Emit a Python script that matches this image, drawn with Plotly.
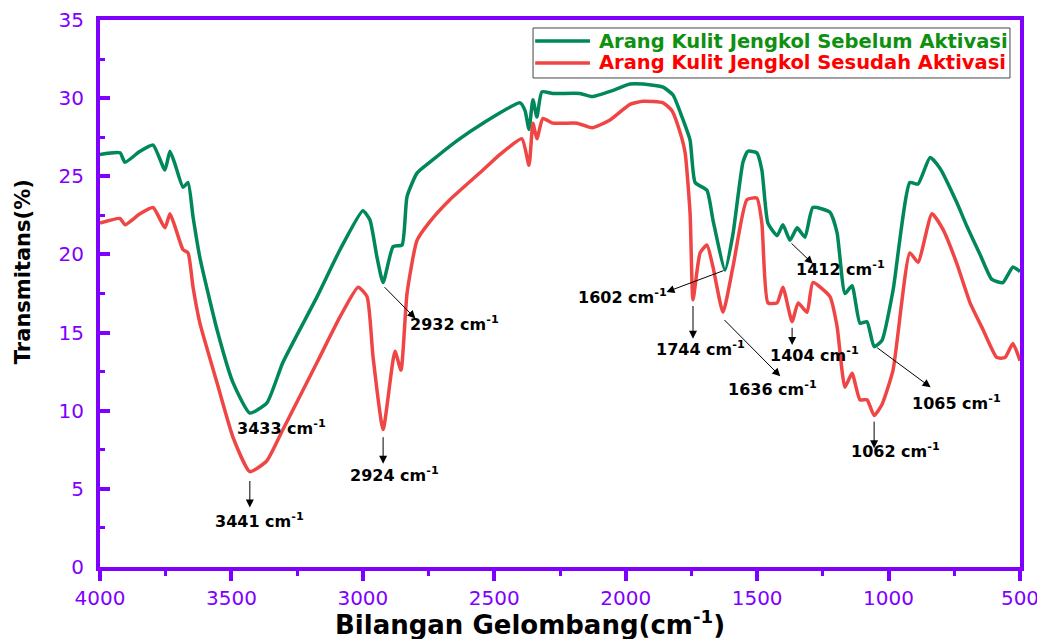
import plotly.graph_objects as go

# ---------------- data ----------------
wn_sebelum = [4000, 3924, 3905, 3848, 3798, 3753, 3734, 3715, 3684, 3665, 3646, 3620, 3555, 3494,
              3430, 3365, 3304, 3174, 3087, 3000, 2973, 2946, 2923, 2885, 2851, 2832, 2794, 2745,
              2640, 2543, 2402, 2383, 2368, 2353, 2338, 2319, 2277, 2174, 2128, 2048, 1984, 1934,
              1858, 1820, 1786, 1755, 1736, 1691, 1668, 1622, 1592, 1554, 1535, 1501, 1482, 1459,
              1424, 1402, 1375, 1348, 1318, 1288, 1223, 1196, 1166, 1139, 1109, 1082, 1055, 1025,
              983, 919, 888, 842, 804, 740, 702, 652, 607, 565, 527, 500]
t_sebelum = [26.4, 26.5, 25.9, 26.6, 27.0, 25.4, 26.6, 25.8, 24.3, 24.6, 22.4, 19.8, 15.2, 11.8,
             9.85, 10.5, 13.1, 17.3, 20.3, 22.8, 22.2, 19.8, 18.2, 20.5, 20.6, 23.7, 25.2, 25.9,
             27.3, 28.4, 29.7, 29.2, 28.0, 29.9, 28.8, 30.4, 30.3, 30.3, 30.1, 30.5, 30.9, 30.9,
             30.7, 30.2, 28.8, 27.3, 24.6, 24.1, 22.2, 19.0, 21.3, 25.9, 26.6, 26.5, 25.4, 22.0,
             21.2, 21.9, 20.9, 21.7, 21.1, 23.0, 22.7, 21.4, 17.5, 18.0, 15.6, 15.7, 14.1, 14.5,
             17.7, 24.6, 24.5, 26.2, 25.5, 23.3, 21.8, 20.0, 18.4, 18.2, 19.2, 18.9]

wn_sesudah = [4000, 3924, 3905, 3848, 3798, 3753, 3734, 3715, 3684, 3665, 3646, 3620, 3555, 3494,
              3430, 3365, 3304, 3174, 3087, 3018, 2984, 2961, 2923, 2878, 2855, 2832, 2794, 2745,
              2669, 2543, 2478, 2395, 2368, 2353, 2338, 2315, 2277, 2185, 2128, 2060, 1984, 1934,
              1858, 1824, 1793, 1774, 1755, 1744, 1717, 1691, 1668, 1630, 1592, 1539, 1501, 1482,
              1459, 1424, 1402, 1367, 1344, 1310, 1288, 1223, 1196, 1166, 1139, 1109, 1082, 1055,
              1025, 983, 919, 888, 835, 793, 740, 690, 641, 588, 557, 527, 500]
t_sesudah = [22.0, 22.3, 21.9, 22.6, 23.0, 21.7, 22.6, 21.8, 20.3, 20.1, 17.9, 15.6, 11.8, 8.3,
             6.1, 6.8, 8.8, 13.1, 16.0, 17.9, 17.3, 13.4, 8.8, 13.8, 12.6, 17.5, 20.9, 22.1,
             23.5, 25.4, 26.4, 27.4, 25.7, 28.4, 27.4, 28.7, 28.4, 28.4, 28.1, 28.6, 29.6, 29.8,
             29.7, 29.2, 27.8, 26.5, 22.6, 17.1, 20.1, 20.6, 19.2, 16.3, 19.2, 23.5, 23.6, 22.0,
             16.9, 16.9, 17.9, 15.7, 16.9, 16.3, 18.2, 17.3, 15.4, 11.5, 12.4, 10.7, 10.7, 9.7,
             10.4, 12.6, 20.1, 19.5, 22.6, 21.6, 19.4, 16.9, 15.2, 13.4, 13.4, 14.3, 13.2]

series_names = ["Arang Kulit Jengkol Sebelum Aktivasi", "Arang Kulit Jengkol Sesudah Aktivasi"]
line_colors = ["#00875A", "#F04545"]
text_colors = ["#109010", "#FF0000"]

x_title = "Bilangan Gelombang(cm<sup>-1</sup>)"
y_title = "Transmitans(%)"
x_ticks = [4000, 3500, 3000, 2500, 2000, 1500, 1000, 500]
y_ticks = [0, 5, 10, 15, 20, 25, 30, 35]

# peak labels and their layout positions
peak_labels = ["3433", "3441", "2924", "2932", "1602", "1744", "1636", "1404", "1412", "1065", "1062"]
label_pos = [(3311, 8.95), (3395, 3.0), (2878, 5.95), (2650, 15.6), (2014, 17.3), (1717, 14.0),
             (1440, 11.4), (1280, 13.6), (1181, 19.1), (740, 10.5), (972, 7.45)]
arrows = [None,
          ((3430, 5.6), (3430, 3.8)),
          ((2923, 8.4), (2923, 6.6)),
          ((2923, 18.0), (2800, 15.9)),
          ((1622, 19.0), (1845, 17.6)),
          ((1744, 16.8), (1744, 14.6)),
          ((1630, 15.9), (1412, 12.2)),
          ((1367, 15.4), (1367, 14.2)),
          ((1375, 20.8), (1288, 19.4)),
          ((1049, 14.1), (840, 11.5)),
          ((1055, 9.4), (1055, 7.6))]

purple = "#8000FF"
BOLD_FONT = "DejaVu Sans, Liberation Sans, Arial"

fig = go.Figure()
for xs, ys, nm, lc in [(wn_sebelum, t_sebelum, series_names[0], line_colors[0]),
                       (wn_sesudah, t_sesudah, series_names[1], line_colors[1])]:
    fig.add_trace(go.Scatter(
        x=xs, y=ys, mode="lines", name=nm, showlegend=False,
        line=dict(color=lc, width=3.5, shape="spline", smoothing=0.5),
    ))

for lab, (tx, ty), arr in zip(peak_labels, label_pos, arrows):
    fig.add_annotation(x=tx, y=ty, xref="x", yref="y", showarrow=False,
                       text=f"<b>{lab} cm<sup>-1</sup></b>",
                       font=dict(family=BOLD_FONT, size=16, color="black"))
    if arr is not None:
        (hx, hy), (sx, sy) = arr
        fig.add_annotation(x=sx, y=sy, ax=hx, ay=hy, xref="x", yref="y", axref="x", ayref="y",
                           text="", showarrow=True, arrowhead=2, arrowsize=1.6, arrowwidth=1,
                           arrowcolor="black")

# legend box (drawn in paper coordinates)
fig.add_shape(type="rect", xref="paper", yref="paper", x0=0.4707, x1=0.9891, y0=0.894, y1=0.9854,
              line=dict(color="#444444", width=1), fillcolor="white", layer="above")
for i, (nm, lc, tc) in enumerate(zip(series_names, line_colors, text_colors)):
    yy = 0.9616 - i * 0.0402
    fig.add_shape(type="line", xref="paper", yref="paper", x0=0.473, x1=0.5326, y0=yy, y1=yy,
                  line=dict(color=lc, width=3.5), layer="above")
    fig.add_annotation(x=0.5402, y=yy, xref="paper", yref="paper", xanchor="left", yanchor="middle",
                       showarrow=False, text=f"<b>{nm}</b>",
                       font=dict(family=BOLD_FONT, size=19.5, color=tc))

# axis titles
fig.add_annotation(x=2364, y=0, xref="x", yref="paper", yshift=-56, yanchor="middle",
                   showarrow=False, text=f"<b>{x_title}</b>",
                   font=dict(family=BOLD_FONT, size=26, color="black"))
fig.add_annotation(x=0, y=0.539, xref="paper", yref="paper", xshift=-77, xanchor="center",
                   yanchor="middle", textangle=-90, showarrow=False, text=f"<b>{y_title}</b>",
                   font=dict(family=BOLD_FONT, size=21, color="black"))

fig.update_layout(
    width=1045, height=639,
    margin=dict(l=92, r=33, t=12, b=80),
    paper_bgcolor="white", plot_bgcolor="white",
    font=dict(family="Liberation Sans, Arial", color="black"),
    showlegend=False,
)
fig.update_xaxes(
    range=[4000, 500], autorange=False, automargin=False,
    tickvals=x_ticks,
    ticks="outside", ticklen=10, tickwidth=4, tickcolor=purple,
    minor=dict(ticks="outside", ticklen=5, tickwidth=3, tickcolor=purple, dtick=250),
    showline=True, linecolor=purple, linewidth=4, mirror=True,
    showgrid=False, zeroline=False,
    tickfont=dict(size=20, color=purple, family="DejaVu Sans, Liberation Sans"),
)
fig.update_yaxes(
    range=[0, 35], autorange=False, automargin=False,
    tickvals=y_ticks,
    ticks="inside", ticklen=10, tickwidth=4, tickcolor=purple,
    minor=dict(ticks="inside", ticklen=5, tickwidth=3, tickcolor=purple, dtick=2.5),
    showline=True, linecolor=purple, linewidth=4, mirror=True,
    showgrid=False, zeroline=False, ticklabelstandoff=8,
    tickfont=dict(size=20, color=purple, family="DejaVu Sans, Liberation Sans"),
)

fig.write_html("out.html")
